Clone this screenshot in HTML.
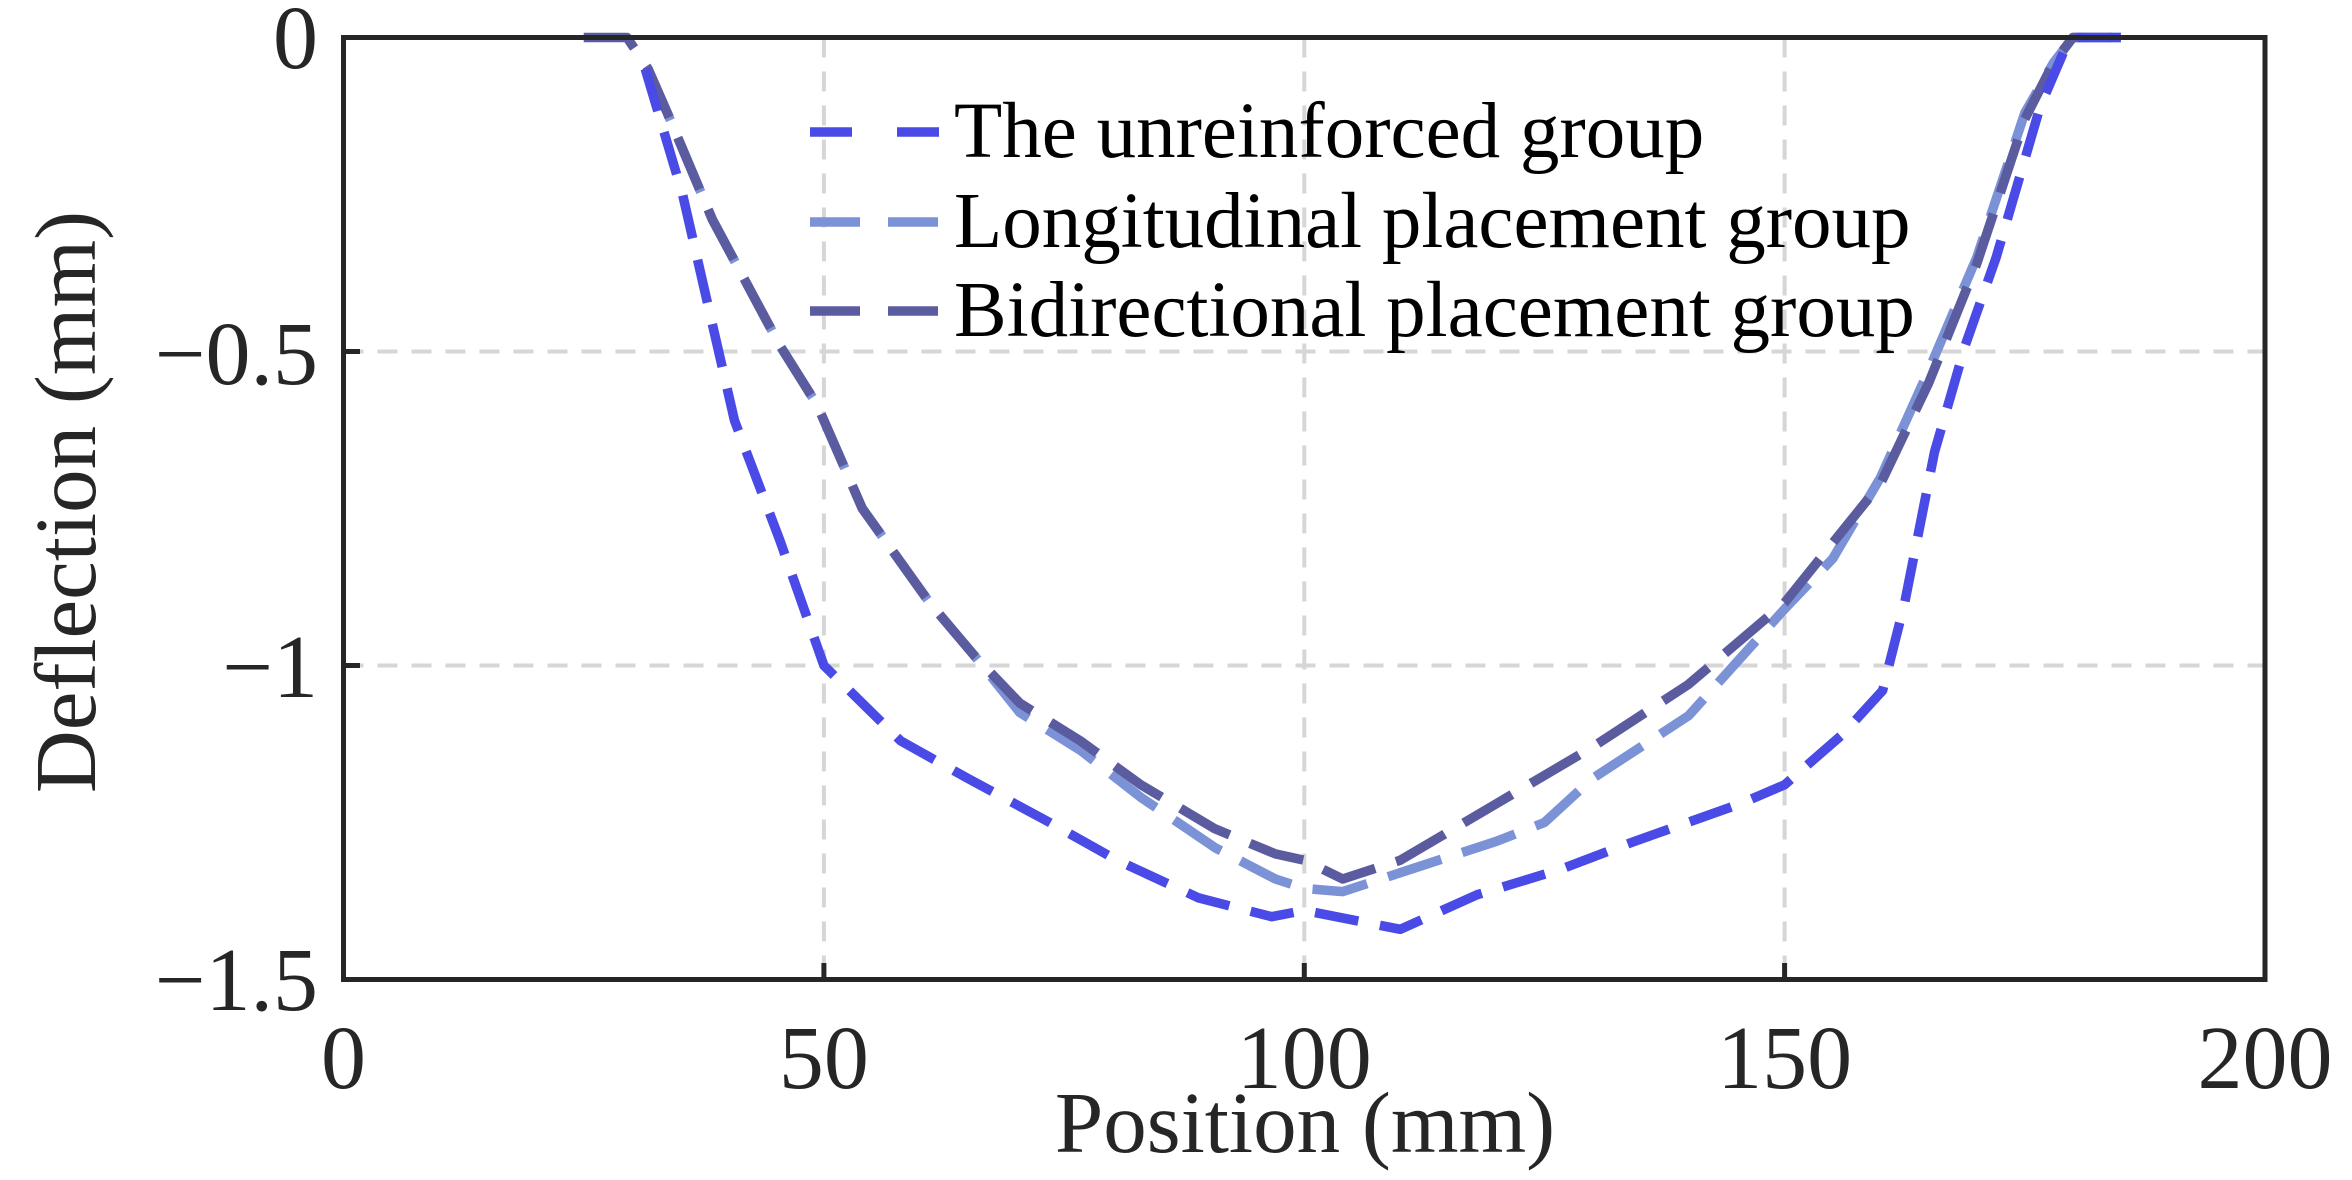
<!DOCTYPE html>
<html><head><meta charset="utf-8"><style>
html,body{margin:0;padding:0;background:#fff;}
svg{display:block;}
text{font-family:"Liberation Serif",serif;fill:#262626;}
</style></head><body>
<svg width="2352" height="1180" viewBox="0 0 2352 1180" xmlns="http://www.w3.org/2000/svg">
<rect width="2352" height="1180" fill="#fff"/>
<g stroke="#d6d6d6" stroke-width="4" stroke-dasharray="20,14" fill="none">
<line x1="823.9" y1="37.5" x2="823.9" y2="979.5"/>
<line x1="1304.3" y1="37.5" x2="1304.3" y2="979.5"/>
<line x1="1784.6" y1="37.5" x2="1784.6" y2="979.5"/>
<line x1="343.5" y1="37.5" x2="2265" y2="37.5"/>
<line x1="343.5" y1="351.5" x2="2265" y2="351.5"/>
<line x1="343.5" y1="665.5" x2="2265" y2="665.5"/>
</g>
<g fill="none" stroke-linejoin="round">
<polyline stroke="#7b93d6" stroke-width="9.5" stroke-dasharray="56,22" points="648.1,68.9 667.3,112.9 712.4,219.6 779.7,345.2 817.1,404.9 862.3,508.5 929.6,602.7 974.7,656.1 1019.9,712.6 1080.4,750.3 1140.9,797.4 1214.9,847.6 1275.4,879 1304.3,888.4 1342.7,891.6 1400.3,872.7 1496.4,841.3 1544.4,822.5 1592.5,778.5 1688.6,715.7 1784.6,609 1832.7,558.7 1880.7,477.1 1928.7,370.3 1976.8,257.3 2024.8,112.9 2053.6,62.6 2072.9,37.5 2120.9,37.5"/>
<polyline stroke="#5b5ba0" stroke-width="9.5" stroke-dasharray="56,22" points="583.7,37.5 627,37.5 648.1,68.9 667.3,112.9 712.4,219.6 779.7,345.2 817.1,404.9 862.3,508.5 929.6,602.7 974.7,656.1 1019.9,703.2 1080.4,740.9 1140.9,784.8 1214.9,828.8 1275.4,853.9 1304.3,860.2 1342.7,879 1400.3,860.2 1496.4,803.7 1592.5,747.1 1688.6,684.3 1784.6,602.7 1880.7,483.4 1928.7,382.9 1976.8,263.6 2024.8,119.1 2053.6,62.6 2072.9,37.5 2120.9,37.5"/>
<polyline stroke="#4a4ae6" stroke-width="9.5" stroke-dasharray="44,22" points="645.2,68.9 682.6,194.5 734.5,420.6 779.7,539.9 823.9,665.5 900.7,740.9 968,778.5 1049.7,822.5 1116.9,860.2 1198.6,897.9 1271.6,916.7 1304.3,910.4 1400.3,929.3 1477.2,894.7 1559.8,869.6 1634.7,841.3 1740.5,803.7 1784.6,784.8 1842.3,734.6 1882.6,690.6 1904.7,602.7 1934.5,452 1965.3,345.2 1996.2,257.3 2040.2,106.6 2067.1,43.8 2077.7,37.5 2120.9,37.5"/>
</g>
<g stroke="#262626" stroke-width="5" fill="none">
<rect x="343.5" y="37.5" width="1921.5" height="942"/>
<line x1="823.9" y1="979.5" x2="823.9" y2="963"/>
<line x1="1304.3" y1="979.5" x2="1304.3" y2="963"/>
<line x1="1784.6" y1="979.5" x2="1784.6" y2="963"/>
<line x1="343.5" y1="351.5" x2="360" y2="351.5"/>
<line x1="343.5" y1="665.5" x2="360" y2="665.5"/>
</g>
<g font-size="90" text-anchor="middle">
<text x="343.5" y="1088">0</text>
<text x="823.9" y="1088">50</text>
<text x="1304.3" y="1088">100</text>
<text x="1784.6" y="1088">150</text>
<text x="2265" y="1088">200</text>
</g>
<g font-size="90" text-anchor="end">
<text x="318" y="68">0</text>
<text x="318" y="384">−0.5</text>
<text x="318" y="697">−1</text>
<text x="318" y="1010">−1.5</text>
</g>
<text x="1305" y="1152" font-size="87" text-anchor="middle">Position (mm)</text>
<text transform="translate(95,502) rotate(-90)" font-size="87" text-anchor="middle">Deflection (mm)</text>
<g fill="none" stroke-width="9.5">
<line x1="810" y1="132" x2="942" y2="132" stroke="#4a4ae6" stroke-dasharray="42,45"/>
<line x1="810" y1="222" x2="942" y2="222" stroke="#7b93d6" stroke-dasharray="50,28"/>
<line x1="810" y1="311" x2="942" y2="311" stroke="#5b5ba0" stroke-dasharray="50,28"/>
</g>
<g font-size="79">
<text x="954" y="157" style="fill:#000">The unreinforced group</text>
<text x="954" y="247" style="fill:#000">Longitudinal placement group</text>
<text x="954" y="336" style="fill:#000">Bidirectional placement group</text>
</g>
</svg>
</body></html>
